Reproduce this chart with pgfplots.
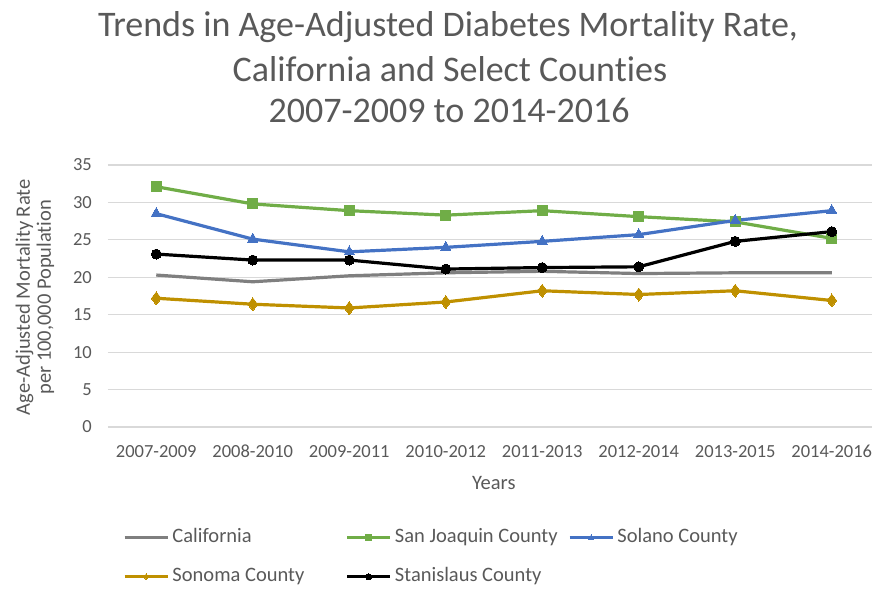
\documentclass[border=0pt]{standalone}
\usepackage{pgfplots}
\pgfplotsset{compat=1.18}
\usepackage{fontspec}
\setmainfont{Carlito}[Ligatures={NoCommon}]
\definecolor{txt}{HTML}{595959}
\definecolor{grd}{HTML}{D9D9D9}
\definecolor{cagray}{HTML}{7F7F7F}
\definecolor{sjgreen}{HTML}{70AD47}
\definecolor{soblue}{HTML}{4472C4}
\definecolor{sngold}{HTML}{BF9000}
\begin{document}
\begin{tikzpicture}
\path[use as bounding box] (-108pt,-173pt) rectangle (764pt,427pt);
\begin{axis}[
  at={(0pt,0pt)}, anchor=south west,
  scale only axis, width=764pt, height=262pt,
  xmin=-0.5, xmax=7.417, ymin=0, ymax=35,
  xtick={0,1,2,3,4,5,6,7},
  xticklabels={2007-2009,2008-2010,2009-2011,2010-2012,2011-2013,2012-2014,2013-2015,2014-2016},
  ytick={0,5,10,15,20,25,30,35},
  axis x line=bottom, axis y line=left,
  axis line style={draw=none}, tick style={draw=none}, major tick length=0pt,
  ymajorgrids, grid style={grd, line width=1.2pt},
  /pgf/number format/assume math mode=true,
  tick label style={text=txt, font=\fontsize{18.5}{20}\selectfont},
  yticklabel style={anchor=east, inner sep=0pt, xshift=-16pt},
  xticklabel style={anchor=north, inner sep=0pt, yshift=-18pt},
  xlabel={Years},
  xlabel style={at={(axis description cs:0.505,0)}, anchor=north, inner sep=0pt, yshift=-49pt, text=txt, font=\fontsize{20.5}{22}\selectfont},
  ylabel={Age-Adjusted Mortality Rate\\per 100,000 Population},
  ylabel style={at={(axis description cs:-0.0955,0.495)}, anchor=center, inner sep=0pt, align=center, text=txt, font=\fontsize{20.5}{21}\selectfont},
  legend columns=3,
  legend cell align=left,
  legend image code/.code={\draw[mark repeat=2,mark phase=2,#1,line width=3.5pt,mark size=3pt] plot coordinates {(0pt,0pt) (21.5pt,0pt) (43pt,0pt)};},
  legend style={at={(axis description cs:0.0196,-0.3863)}, anchor=north west, draw=none, fill=none, inner sep=0pt, outer sep=0pt,
    row sep=20pt, column sep=0pt, text=txt, font=\fontsize{20.5}{22}\selectfont,
    nodes={inner sep=0pt, text height=14pt, text depth=5pt}},
]
\addplot[color=cagray, line width=3.2pt, no markers] coordinates {(0,20.3) (1,19.4) (2,20.2) (3,20.6) (4,20.8) (5,20.5) (6,20.6) (7,20.6)};
\addlegendentry{\makebox[176pt][l]{\hspace{3pt}California}}
\addplot[color=sjgreen, line width=3.2pt, mark=square*, mark size=5pt, mark options={solid, line width=0pt}] coordinates {(0,32.1) (1,29.8) (2,28.9) (3,28.3) (4,28.9) (5,28.1) (6,27.4) (7,25.2)};
\addlegendentry{\makebox[176pt][l]{\hspace{3pt}San Joaquin County}}
\addplot[color=soblue, line width=3.2pt, mark=triangle*, mark size=6pt, mark options={solid, line width=0pt}] coordinates {(0,28.5) (1,25.1) (2,23.4) (3,24.0) (4,24.8) (5,25.7) (6,27.6) (7,28.9)};
\addlegendentry{\hspace{3pt}Solano County}
\addplot[color=sngold, line width=3.2pt, mark=diamond*, mark size=6.5pt, mark options={solid, line width=0pt}] coordinates {(0,17.2) (1,16.4) (2,15.9) (3,16.7) (4,18.2) (5,17.7) (6,18.2) (7,16.9)};
\addlegendentry{\makebox[176pt][l]{\hspace{3pt}Sonoma County}}
\addplot[color=black, line width=3.2pt, mark=*, mark size=5pt, mark options={solid, line width=0pt}] coordinates {(0,23.1) (1,22.3) (2,22.3) (3,21.1) (4,21.3) (5,21.4) (6,24.8) (7,26.1)};
\addlegendentry{\makebox[176pt][l]{\hspace{3pt}Stanislaus County}}
\end{axis}
\node[anchor=base, text=txt, font=\fontsize{36}{43}\selectfont, inner sep=0pt] at (340pt,390pt) {Trends in Age-Adjusted Diabetes Mortality Rate,};
\node[anchor=base, text=txt, font=\fontsize{36}{43}\selectfont, inner sep=0pt] at (342pt,345pt) {California and Select Counties};
\node[anchor=base, text=txt, font=\fontsize{36}{43}\selectfont, inner sep=0pt] at (341pt,304pt) {2007-2009 to 2014-2016};
\end{tikzpicture}
\end{document}
